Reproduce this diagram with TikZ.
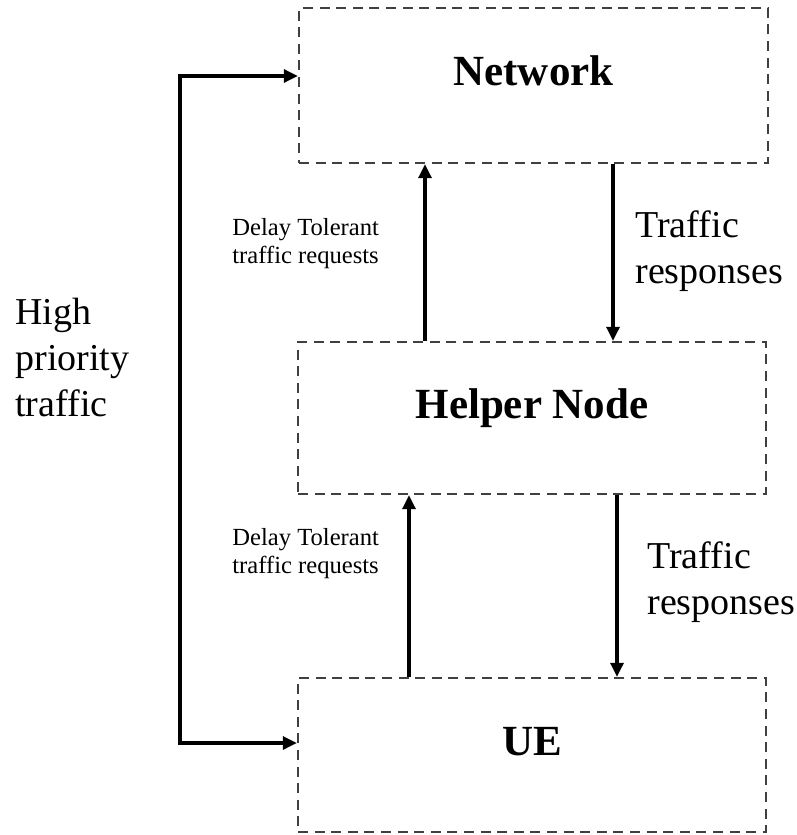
\documentclass[tikz,border=0pt]{standalone}
\usepackage{fontspec}
\setmainfont{Liberation Serif}
\usetikzlibrary{arrows.meta}

\tikzset{
  >={Triangle[length=7pt,width=6.5pt]},
  box/.style={draw=black!75, line width=1.2pt, dash pattern=on 5pt off 3.3pt, minimum width=234pt, minimum height=77pt, inner sep=0pt},
  title/.style={font=\fontsize{21.5}{26}\selectfont\bfseries, anchor=base, inner sep=0pt},
  note/.style={font=\fontsize{19}{23}\selectfont, align=left, anchor=north west, inner sep=0pt},
  smallnote/.style={font=\fontsize{12.3}{14}\selectfont, align=left, anchor=north west, inner sep=0pt},
  link/.style={line width=1.6pt, ->},
}

\begin{document}
\begin{tikzpicture}[x=0.5pt,y=-0.5pt]
\useasboundingbox (0,0) rectangle (797,835);
\node[box, minimum width=234.5pt, minimum height=77.5pt] (net) at (533.5,85.5) {};
\node[box, minimum height=76pt] (help) at (532,418) {};
\node[box] (ue) at (532,755) {};
\node[title] (nettext) at (net.center) {Network};
\node[title] (helptext) at (help.center) {Helper Node};
\node[title] (uetext) at (ue.center) {UE};
\node[smallnote] (req1) at (232,218) {Delay Tolerant\\traffic requests};
\node[smallnote] (req2) at (232,528) {Delay Tolerant\\traffic requests};
\node[note] (resp1) at (635,210) {Traffic\\responses};
\node[note] (resp2) at (647,541) {Traffic\\responses};
\node[note] (prio) at (15,298) {High\\priority\\traffic};
\draw[link] (help.north -| 425,0) -- (net.south -| 425,0);
\draw[link] (net.south -| 613,0) -- (help.north -| 613,0);
\draw[link] (ue.north -| 409,0) -- (help.south -| 409,0);
\draw[link] (help.south -| 617,0) -- (ue.north -| 617,0);
\draw[link, <->] (net.west |- 0,76) -- (180,76) -- (180,743) -- (ue.west |- 0,743);
\end{tikzpicture}
\end{document}
